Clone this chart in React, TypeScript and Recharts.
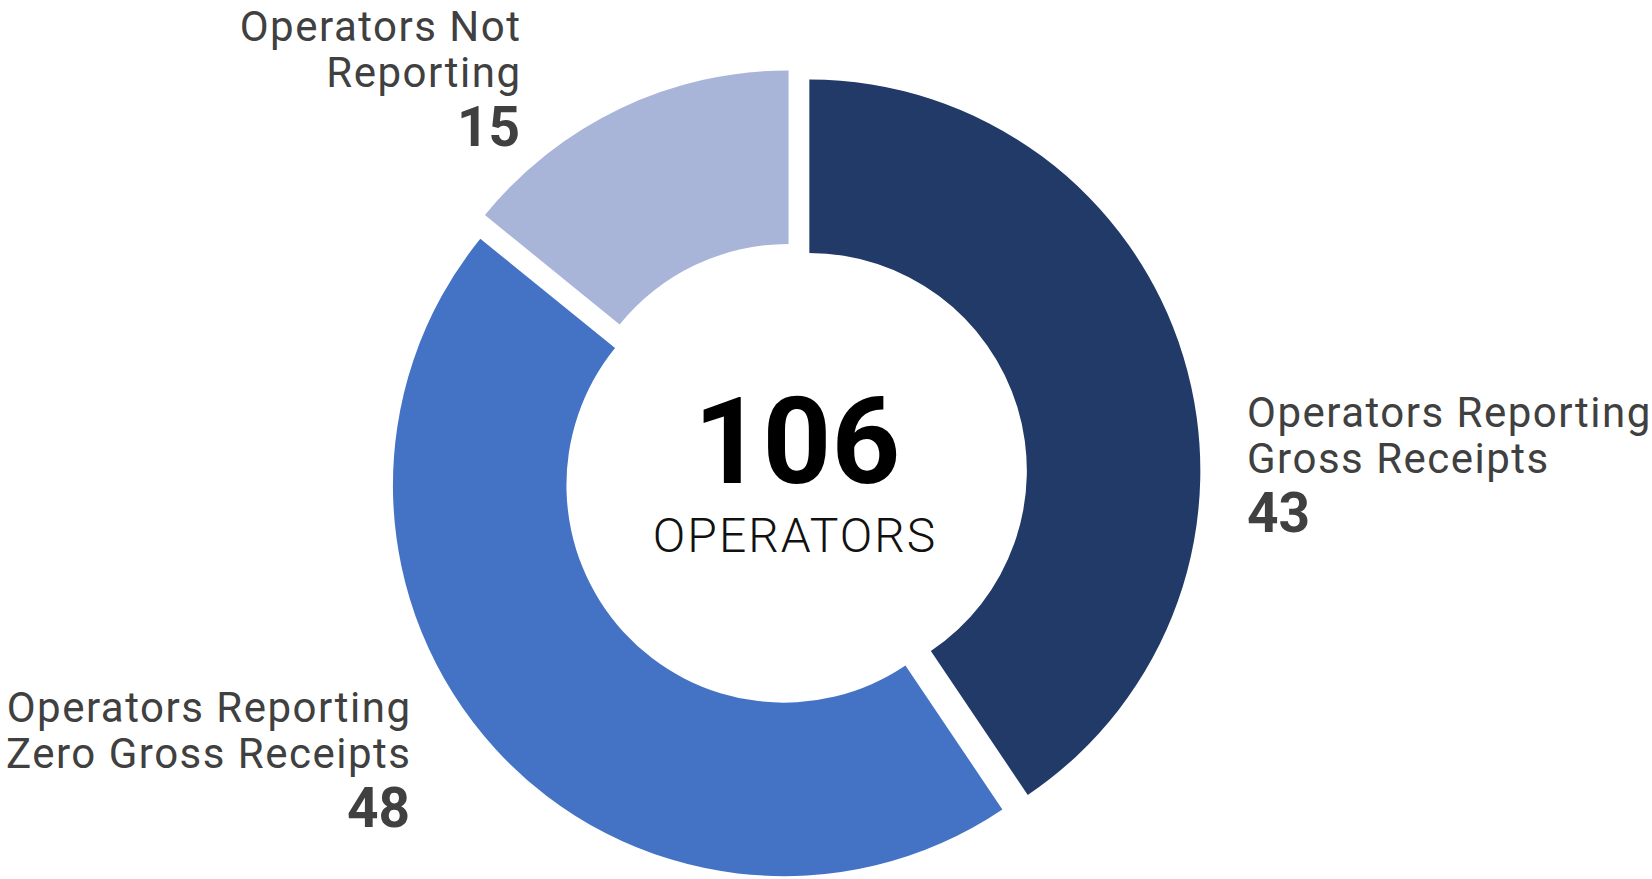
import React from 'react';
import { PieChart, Pie, Cell, Label } from 'recharts';

const categories = [
  'Operators Reporting Gross Receipts',
  'Operators Reporting Zero Gross Receipts',
  'Operators Not Reporting',
];
const values = [43, 48, 15];
const labelLines = [
  ['Operators Reporting', 'Gross Receipts'],
  ['Operators Reporting', 'Zero Gross Receipts'],
  ['Operators Not', 'Reporting'],
];
const colors = ['#213A67', '#4473C5', '#A8B5D9'];
const centerCaption = 'OPERATORS';

const data = categories.map((name, i) => ({ name, value: values[i] }));
const total = values.reduce((a, b) => a + b, 0);

const W = 1652;
const H = 879;
const CX = 795;
const CY = 475;
const OUTER = 391;
const INNER = 217.5;
const EXPLODE = 15;
const START = 90;
const END = -270;

const FONT = 'Roboto, "Noto Sans", sans-serif';
const TEXT_COLOR = '#404040';
const LINE_GAP = 46;
const NUM_GAP = 59;
const LABEL_SIZE = 42;
const LABEL_SPACING = 1.5;

// label layout relative to pie centre (first baseline)
const labelLayout = [
  { dx: 452, dy: -48, anchor: 'start' },
  { dx: -383.5, dy: 247, anchor: 'end' },
  { dx: -273.5, dy: -434, anchor: 'end' },
];

let cum = 0;
const mids = values.map((v) => {
  const m = START + ((END - START) * (cum + v / 2)) / total;
  cum += v;
  return m;
});

const renderLabel = (sliceIndex: number) => (props: any) => {
  if (props.index !== sliceIndex) return <g />;
  const lay = labelLayout[sliceIndex];
  const x = CX + lay.dx;
  const y = CY + lay.dy;
  const lines = labelLines[sliceIndex];
  const numX = lay.anchor === 'end' ? x - LABEL_SPACING : x;
  return (
    <g>
      <text
        x={x}
        y={y}
        textAnchor={lay.anchor}
        fontFamily={FONT}
        fontSize={LABEL_SIZE}
        letterSpacing={LABEL_SPACING}
        fill={TEXT_COLOR}
      >
        {lines.map((ln, k) => (
          <tspan key={k} x={x} y={y + k * LINE_GAP}>
            {ln}
          </tspan>
        ))}
      </text>
      <text
        x={numX}
        y={y + (lines.length - 1) * LINE_GAP + NUM_GAP}
        textAnchor={lay.anchor}
        fontFamily={FONT}
        fontSize={55}
        fontWeight={700}
        fill={TEXT_COLOR}
      >
        {props.value}
      </text>
    </g>
  );
};

const renderCenter = (props: any) => {
  const vb = props.viewBox || {};
  const cx = vb.cx ?? CX;
  const cy = vb.cy ?? CY;
  return (
    <g>
      <text
        x={cx + 2}
        y={cy + 8}
        textAnchor="middle"
        fontFamily={FONT}
        fontSize={120}
        fontWeight={700}
        fill="#000"
      >
        {total}
      </text>
      <text
        x={cx}
        y={cy + 77}
        textAnchor="middle"
        fontFamily={FONT}
        fontSize={48}
        fontWeight={300}
        letterSpacing={2}
        fill="#111"
      >
        {centerCaption}
      </text>
    </g>
  );
};

export default function App() {
  return (
    <div style={{ position: 'absolute', left: 0, top: 0, width: W, height: H, background: '#fff' }}>
      <PieChart width={W} height={H} margin={{ top: 0, right: 0, bottom: 0, left: 0 }}>
        {values.map((_, i) => {
          const rad = (mids[i] * Math.PI) / 180;
          const pcx = CX + EXPLODE * Math.cos(rad);
          const pcy = CY - EXPLODE * Math.sin(rad);
          return (
            <Pie
              key={i}
              data={data}
              dataKey="value"
              nameKey="name"
              cx={pcx}
              cy={pcy}
              innerRadius={INNER}
              outerRadius={OUTER}
              startAngle={START}
              endAngle={END}
              stroke="none"
              isAnimationActive={false}
              label={renderLabel(i)}
              labelLine={false}
            >
              {data.map((_, j) => (
                <Cell key={j} fill={j === i ? colors[i] : 'transparent'} stroke="none" />
              ))}
            </Pie>
          );
        })}
        <Pie
          data={data}
          dataKey="value"
          cx={CX}
          cy={CY}
          innerRadius={0}
          outerRadius={1}
          startAngle={START}
          endAngle={END}
          stroke="none"
          fill="transparent"
          isAnimationActive={false}
          labelLine={false}
        >
          {data.map((_, j) => (
            <Cell key={j} fill="transparent" stroke="none" />
          ))}
          <Label position="center" content={renderCenter} />
        </Pie>
      </PieChart>
    </div>
  );
}
